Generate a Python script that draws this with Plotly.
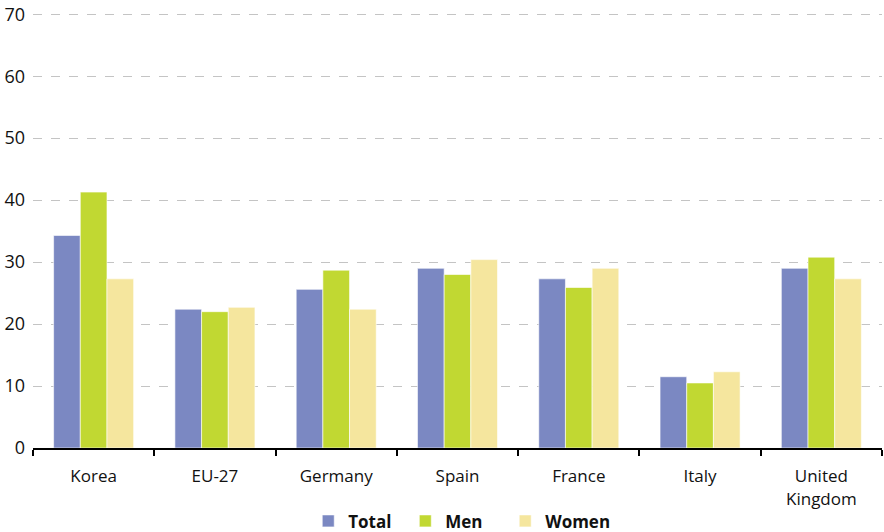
import plotly.graph_objects as go

countries = ["Korea", "EU-27", "Germany", "Spain", "France", "Italy", "United<br>Kingdom"]
total = [34.3, 22.4, 25.6, 29.0, 27.3, 11.5, 29.0]
men = [41.3, 22.0, 28.7, 28.0, 25.9, 10.5, 30.8]
women = [27.3, 22.7, 22.4, 30.4, 29.0, 12.3, 27.3]

# non-breaking spaces widen the gaps between legend entries
series = [("Total\u00a0\u00a0", total, "#7b88c2"),
          ("Men\u00a0\u00a0\u00a0\u00a0", men, "#c1d832"),
          ("Women", women, "#f5e69e")]

fig = go.Figure()
for name, vals, col in series:
    fig.add_trace(go.Bar(
        x=countries, y=vals, name=name,
        marker=dict(color=col, line=dict(color="rgba(255,255,255,0.6)", width=1)),
    ))

fig.update_layout(
    width=884, height=532,
    margin=dict(l=33, r=2, t=13, b=84),
    barmode="group", bargap=0.34, bargroupgap=0,
    plot_bgcolor="white", paper_bgcolor="white",
    font=dict(family="Open Sans, Noto Sans, sans-serif", size=17, color="#111"),
    legend=dict(
        orientation="h", x=0.505, xanchor="center",
        yref="container", y=0.02, yanchor="middle",
        font=dict(size=17, color="#111", weight="bold"),
        itemwidth=30, tracegroupgap=0,
    ),
)
fig.update_xaxes(
    automargin=False,
    showline=True, linecolor="black", linewidth=2,
    ticks="outside", tickson="boundaries", ticklen=6, tickwidth=2, tickcolor="black",
    ticklabelstandoff=12,
    showgrid=False,
)
fig.update_yaxes(
    automargin=False,
    range=[0, 70.2], tickvals=[0, 10, 20, 30, 40, 50, 60, 70],
    tickfont=dict(size=18),
    showgrid=True, gridcolor="#c4c4c4", griddash="dash", gridwidth=1,
    zeroline=False, showline=False, ticks="", ticklabelstandoff=7,
)

# the page's default body margin would shift the chart by 8px
fig.write_html("out.html", config={"displayModeBar": False},
               post_script="document.body.style.margin='0';")
